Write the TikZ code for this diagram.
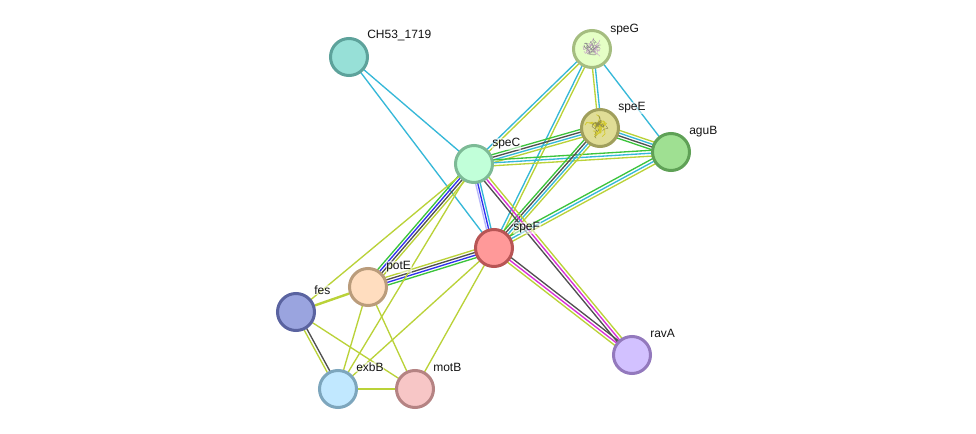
\documentclass[tikz,border=0pt]{standalone}
\usepackage{fontspec}
\setmainfont{Liberation Sans}
\usetikzlibrary{calc,backgrounds}
\definecolor{grn}{HTML}{3CC43C}
\definecolor{drk}{HTML}{505050}
\definecolor{cyn}{HTML}{35B8D8}
\definecolor{lim}{HTML}{BAD238}
\definecolor{blu}{HTML}{3030F0}
\definecolor{lav}{HTML}{B8B8FA}
\definecolor{mag}{HTML}{D82CD8}
\definecolor{cCHd}{HTML}{5DA29B}\definecolor{cCHf}{HTML}{97E0D7}
\definecolor{cGd}{HTML}{A5BD80}\definecolor{cGf}{HTML}{E5FFC6}
\definecolor{cEd}{HTML}{A09F5C}\definecolor{cEf}{HTML}{E0DD96}
\definecolor{cAd}{HTML}{5FA156}\definecolor{cAf}{HTML}{9FE092}
\definecolor{cCd}{HTML}{7DBA96}\definecolor{cCf}{HTML}{C1FFD9}
\definecolor{cFd}{HTML}{B85555}\definecolor{cFf}{HTML}{FF9999}
\definecolor{cPd}{HTML}{BA9C7B}\definecolor{cPf}{HTML}{FFDDBF}
\definecolor{cSd}{HTML}{5A63A0}\definecolor{cSf}{HTML}{9AA4DF}
\definecolor{cXd}{HTML}{7DA6BD}\definecolor{cXf}{HTML}{C1E8FF}
\definecolor{cMd}{HTML}{B58383}\definecolor{cMf}{HTML}{F7C6C6}
\definecolor{cRd}{HTML}{9379BD}\definecolor{cRf}{HTML}{D2C1FF}
\tikzset{
  px/.style={x=0.75pt,y=-0.75pt},
  edgeline/.style={line width=1pt},
  protein/.style n args={2}{circle,line width=2.25pt,minimum size=27.75pt,inner sep=0pt,
    draw=#1,fill=#2},
  tag/.style={anchor=west,font=\fontsize{9}{10}\selectfont,text=black!92,
    fill=white,fill opacity=.55,text opacity=1,inner sep=0.4pt}
}
% One bundle of parallel evidence lines; offsets are perpendicular, in pt.
\newcommand{\bundle}[3]{%
  \foreach \off/\col in {#3}{%
    \draw[edgeline,color=\col] ($(#1)!\off pt!90:(#2)$) -- ($(#2)!\off pt!-90:(#1)$);
  }%
}
% A tangle of short strokes standing for a folded protein structure.
\newcommand{\fold}[6]{%
  \pgfmathsetseed{#3}
  \foreach \k in {1,...,#6}{%
    \pgfmathsetmacro{\ax}{#1+5*rand}
    \pgfmathsetmacro{\ay}{#2+5*rand}
    \pgfmathsetmacro{\bx}{\ax+4*rand}
    \pgfmathsetmacro{\by}{\ay+4*rand}
    \pgfmathsetmacro{\cx}{\bx+4*rand}
    \pgfmathsetmacro{\cy}{\by+4*rand}
    \pgfmathsetmacro{\dx}{\cx+3*rand}
    \pgfmathsetmacro{\dy}{\cy+3*rand}
    \draw[color=#4,line width=#5,line join=round] (\ax,\ay) -- (\bx,\by) -- (\cx,\cy) -- (\dx,\dy);
  }%
}
\begin{document}
\begin{tikzpicture}[px]
\useasboundingbox (0,0) rectangle (976,434);

% Proteins
\node[protein={cCHd}{cCHf}] (CH) at (349,57) {};
\node[protein={cGd}{cGf}] (G) at (592,49) {};
\node[protein={cEd}{cEf}] (E) at (600,128) {};
\node[protein={cAd}{cAf}] (A) at (671,152) {};
\node[protein={cCd}{cCf}] (C) at (474,164) {};
\node[protein={cFd}{cFf}] (F) at (494,248) {};
\node[protein={cPd}{cPf}] (P) at (368,287) {};
\node[protein={cSd}{cSf}] (S) at (296,312) {};
\node[protein={cXd}{cXf}] (X) at (338,389) {};
\node[protein={cMd}{cMf}] (M) at (415,389) {};
\node[protein={cRd}{cRf}] (R) at (632,355) {};

% Folded structures inside two of the proteins
\fold{591}{49}{11}{black!25!violet!35!white}{0.35pt}{22}
\fold{591}{49}{17}{black!45}{0.25pt}{18}
\fold{599}{127}{23}{yellow!80!black}{0.55pt}{26}
\fold{599}{127}{29}{yellow!50!black}{0.3pt}{14}

% Connectors, drawn behind the proteins
\begin{scope}[on background layer]
\fill[white] (0,0) rectangle (976,434);
\bundle{CH}{C}{0/cyn}
\bundle{CH}{F}{0/cyn}
\bundle{C}{G}{1.1/cyn,-1.1/lim}
\bundle{F}{G}{1.1/cyn,-1.1/lim}
\bundle{E}{G}{1.1/lim,-1.1/cyn}
\bundle{G}{A}{0/cyn}
\bundle{C}{E}{3/grn,1/drk,-1/cyn,-3/lim}
\bundle{C}{A}{2.2/grn,0/cyn,-2.2/lim}
\bundle{E}{A}{3/lim,1/cyn,-1/drk,-3/grn}
\bundle{F}{E}{3/grn,1/drk,-1/cyn,-3/lim}
\bundle{F}{A}{2.2/grn,0/cyn,-2.2/lim}
\bundle{F}{C}{2.2/lav,0.6/blu,-1.2/cyn}
\bundle{C}{R}{-2.2/drk,0/mag,2.2/lim}
\bundle{F}{R}{2.2/drk,0/mag,-2.2/lim}
\bundle{P}{C}{3/grn,1/blu,-1/drk,-3/lim}
\bundle{P}{F}{3/lim,1/drk,-1/blu,-3/grn}
\bundle{S}{C}{0/lim}
\draw[color=lim,line width=1.8pt] (S) -- (P);
\bundle{S}{X}{1.1/drk,-1.1/lim}
\bundle{S}{M}{0/lim}
\bundle{X}{P}{0/lim}
\bundle{P}{M}{0/lim}
\bundle{X}{C}{0/lim}
\bundle{X}{F}{0/lim}
\bundle{M}{F}{0/lim}
\bundle{X}{M}{0/lim}
\end{scope}

% Protein names
\node[tag] (tCH) at (366.5,36) {CH53\_1719};
\node[tag] (tG) at (609.5,30) {speG};
\node[tag] (tE) at (617.5,108) {speE};
\node[tag] (tA) at (688.5,132) {aguB};
\node[tag] (tC) at (491.5,144) {speC};
\node[tag] (tF) at (512.5,228) {speF};
\node[tag] (tP) at (385.5,267) {potE};
\node[tag] (tS) at (313.5,290) {fes};
\node[tag] (tX) at (355.5,367) {exbB};
\node[tag] (tM) at (432.5,367) {motB};
\node[tag] (tR) at (649.5,333) {ravA};
\end{tikzpicture}
\end{document}
